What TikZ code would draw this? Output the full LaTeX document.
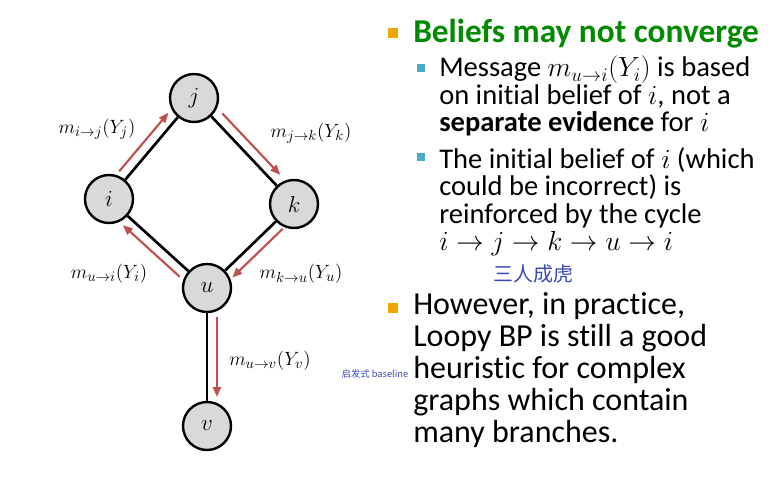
\documentclass[tikz,border=0pt]{standalone}
\usepackage{fontspec}
\setmainfont{Carlito}[Ligatures=NoCommon]
\newfontfamily\handfont{Noto Sans CJK SC}
\usepackage{xcolor}
\usetikzlibrary{calc,arrows.meta}
\definecolor{msgred}{HTML}{C0504D}
\definecolor{nodegray}{HTML}{D9D9D9}
\definecolor{titlegreen}{HTML}{008A00}
\definecolor{bulorange}{HTML}{F0A800}
\definecolor{bulteal}{HTML}{4BACC6}
\definecolor{inkblue}{HTML}{3A48B8}

\begin{document}
\begin{tikzpicture}[x=0.75pt, y=-0.75pt,
  var/.style={circle, draw, line width=1.8pt, fill=nodegray, minimum size=36pt, inner sep=0pt, font=\fontsize{18}{20}\selectfont},
  edge/.style={line width=2pt},
  msg/.style={-{Triangle[length=7.5pt,width=6pt]}, line width=1.6pt, msgred},
  lbl/.style={font=\fontsize{15}{18}\selectfont},
  bulA/.style={fill=bulorange, minimum size=8pt, inner sep=0pt},
  bulB/.style={fill=bulteal, minimum size=6.5pt, inner sep=0pt},
  subtext/.style={anchor=north west, inner sep=0pt, align=left, font=\fontsize{21.4}{20.6}\selectfont},
  maintext/.style={anchor=north west, inner sep=0pt, align=left, font=\fontsize{24}{24}\selectfont},
  hand/.style={inkblue, inner sep=0pt}]
\useasboundingbox (0,0) rectangle (773,477);
% the loopy graph
\node[var] (j) at (194,98) {$j$};
\node[var] (i) at (109,199) {$i$};
\node[var] (k) at (294,204) {$k$};
\node[var] (u) at (207,288) {$u$};
\node[var] (v) at (207,426) {$v$};
\foreach \a/\b in {i/j,j/k,k/u,u/i,u/v} \draw[edge] (\a) -- (\b);
% messages along the cycle
\foreach \a/\b in {i/j,j/k,k/u,u/i,u/v}
  \draw[msg] ($(\a)!0.21!(\b)!7.5pt!90:(\b)$) -- ($(\a)!0.79!(\b)!7.5pt!90:(\b)$);
\node[lbl] (mij) at (97,129) {$m_{i\to j}(Y_j)$};
\node[lbl] (mjk) at (311,133) {$m_{j\to k}(Y_k)$};
\node[lbl] (mui) at (109,274) {$m_{u\to i}(Y_i)$};
\node[lbl] (mku) at (301,274) {$m_{k\to u}(Y_u)$};
\node[lbl] (muv) at (270,361) {$m_{u\to v}(Y_v)$};
% bullet text
\node[bulA] (b1) at (393,33) {};
\node[anchor=base west, inner sep=0pt, titlegreen, font=\fontsize{25}{27}\selectfont\bfseries] (t1) at (413,43) {Beliefs may not converge};
\node[bulB] (b11) at (421,68) {};
\node[subtext] (t11) at (439,56) {Message $m_{u\to i}(Y_i)$ is based\\on initial belief of $i$, not a\\\textbf{separate evidence} for $i$};
\node[bulB] (b12) at (421,157) {};
\node[subtext] (t12) at (439,147) {The initial belief of $i$ (which\\could be incorrect) is\\reinforced by the cycle\\$i\to j\to k\to u\to i$};
\node[hand, font=\handfont\fontsize{15}{16}\selectfont] (note1) at (533,274) {三人成虎};
\node[bulA] (b2) at (393,308) {};
\node[maintext] (t2) at (413,292) {However, in practice,\\Loopy BP is still a good\\heuristic for complex\\graphs which contain\\many branches.};
\node[hand, font=\handfont\fontsize{7}{8}\selectfont] (note2) at (375,374) {启发式 baseline};
\end{tikzpicture}
\end{document}
